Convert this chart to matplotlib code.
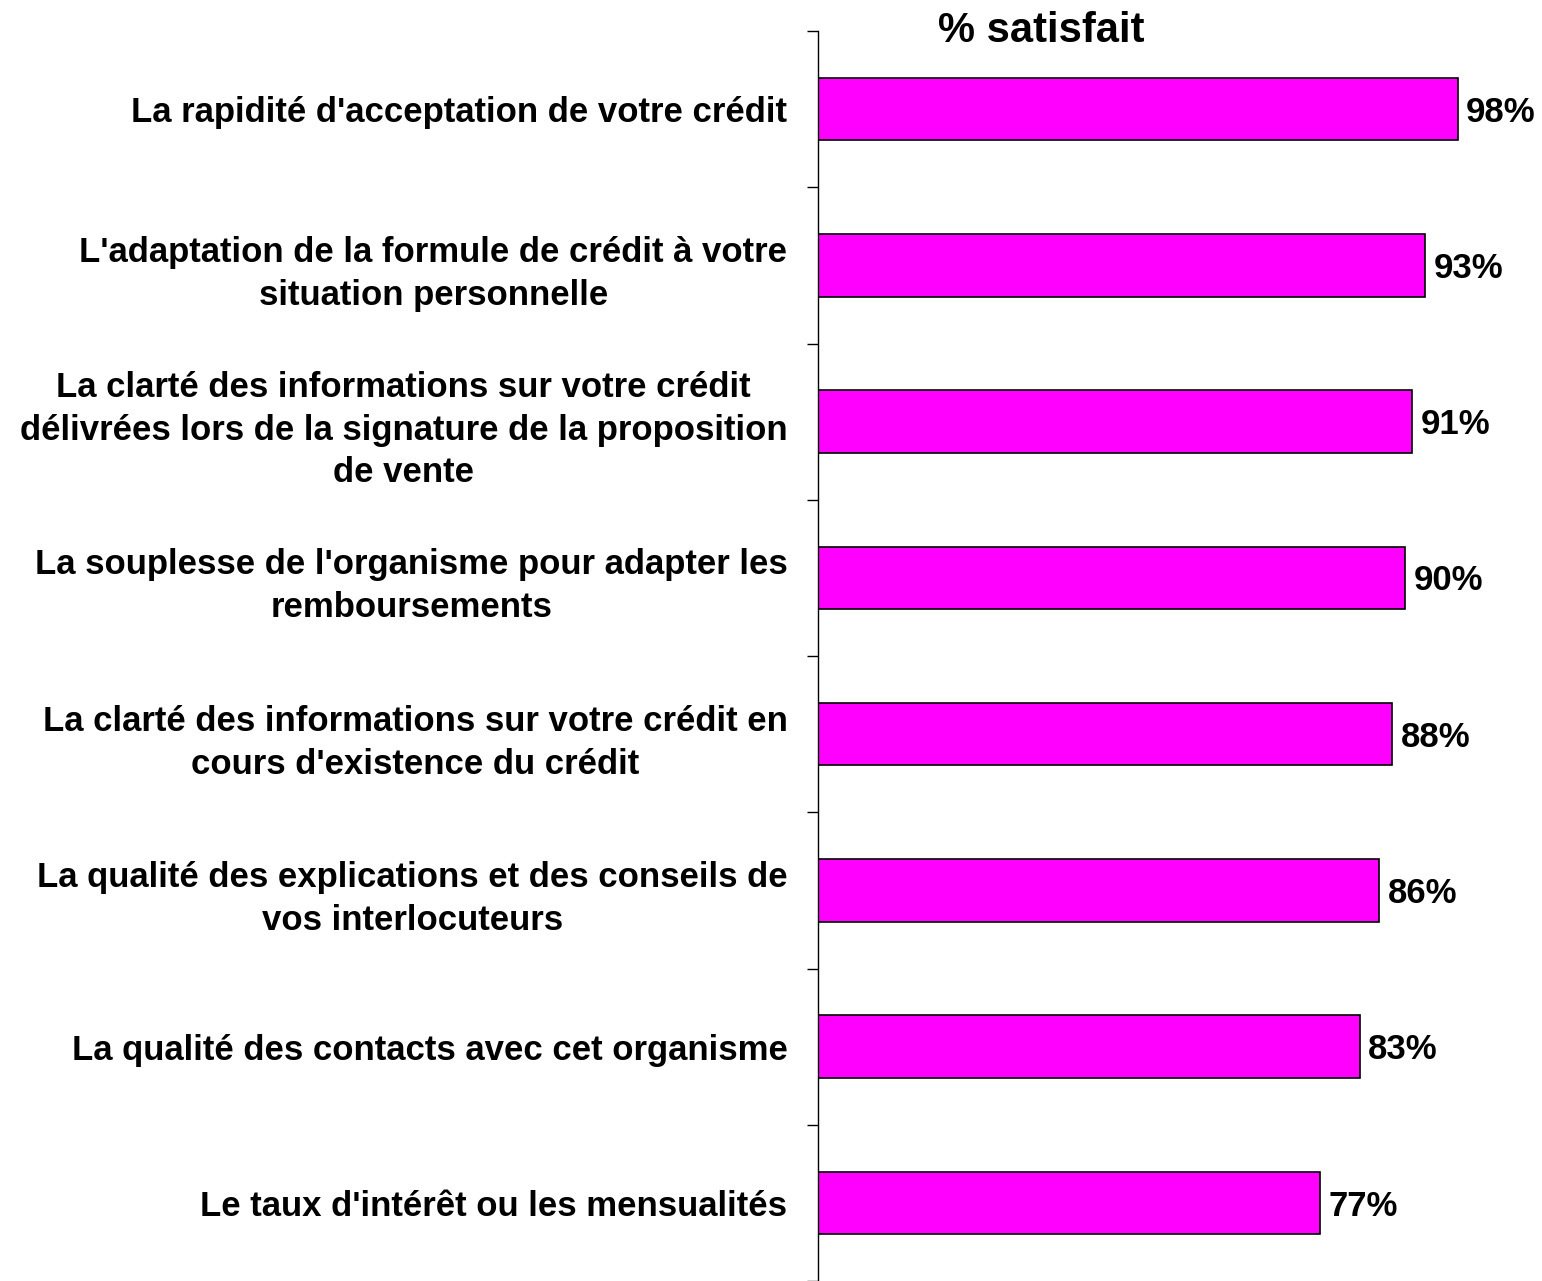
import matplotlib
matplotlib.use("Agg")
from matplotlib import pyplot as plt
import numpy as np

plt.rcParams['font.family'] = ['Liberation Sans', 'DejaVu Sans']

labels = [
    "La rapidité d'acceptation de votre crédit",
    "L'adaptation de la formule de crédit à votre\nsituation personnelle",
    "La clarté des informations sur votre crédit\ndélivrées lors de la signature de la proposition\nde vente",
    "La souplesse de l'organisme pour adapter les\nremboursements",
    "La clarté des informations sur votre crédit en\ncours d'existence du crédit",
    "La qualité des explications et des conseils de\nvos interlocuteurs",
    "La qualité des contacts avec cet organisme",
    "Le taux d'intérêt ou les mensualités",
]
values = [98, 93, 91, 90, 88, 86, 83, 77]
title = "% satisfait"

fig = plt.figure(figsize=(15.42, 12.81), dpi=100)
ax = fig.add_axes([818/1542, 0, 1 - 818/1542 - 0.004, 1 - 31/1281])

y = np.arange(len(values))
ax.barh(y, values, height=0.40, color='#FF00FF', edgecolor='black', linewidth=1.2)

for yi, v in zip(y, values):
    ax.text(v + 1.3, yi + 0.02, f"{v}%", va='center', ha='left', fontsize=25, fontweight='bold')

ax.set_ylim(len(values) - 0.5, -0.5)
ax.set_xlim(0, 110)
ax.set_yticks(y)
ax.set_yticklabels(labels, fontsize=25, fontweight='bold', linespacing=1.38,
                   ha='right', multialignment='center')
ax.tick_params(axis='y', which='major', length=0, pad=22)
ax.set_yticks(np.arange(-0.5, len(values)), minor=True)
ax.tick_params(axis='y', which='minor', length=8, width=1, direction='out')
ax.set_xticks([])
for s in ['top', 'right', 'bottom']:
    ax.spines[s].set_visible(False)
ax.spines['left'].set_linewidth(1)

fig.text(1041/1542, 1 - 31/1281, title, ha='center', va='center', fontsize=30, fontweight='bold')

fig.savefig("out.png", dpi=100)
